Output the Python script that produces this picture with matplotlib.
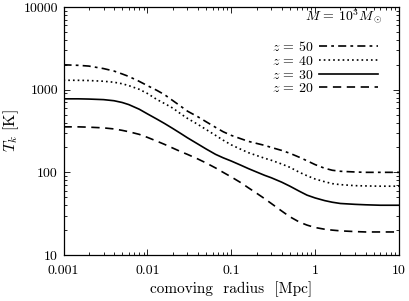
#!/usr/bin/env python3
"""Kinetic temperature profiles T_k(r) for a 10^3 Msun halo at several redshifts."""

import matplotlib
matplotlib.use("Agg")
import matplotlib.pyplot as plt
from matplotlib.ticker import FixedLocator, FixedFormatter, LogLocator, NullFormatter

plt.rcParams["font.family"] = "serif"
plt.rcParams["font.serif"] = ["cmr10", "DejaVu Serif"]
plt.rcParams["mathtext.fontset"] = "cm"
plt.rcParams["axes.formatter.use_mathtext"] = True
plt.rcParams["lines.scale_dashes"] = False

# ── data ──────────────────────────────────────────────────────────────────
radius = [0.001, 0.0015, 0.002, 0.003, 0.004, 0.005, 0.006, 0.008, 0.01,
          0.013, 0.016, 0.02, 0.025, 0.03, 0.04, 0.05, 0.065, 0.08, 0.1,
          0.13, 0.16, 0.2, 0.25, 0.3, 0.4, 0.5, 0.65, 0.8, 1.0,
          1.3, 1.6, 2.0, 3.0, 4.0, 6.0, 10.0]
tk_z50 = [2000, 1970, 1930, 1800, 1680, 1550, 1445, 1260, 1120,
          980, 870, 740, 630, 550, 470, 410, 350, 310, 280,
          255, 237, 224, 212, 200, 184, 170, 152, 138, 124,
          112, 106, 103, 101, 100, 100, 100]
tk_z40 = [1300, 1298, 1290, 1265, 1230, 1180, 1120, 1010, 900,
          760, 680, 600, 510, 450, 380, 330, 280, 245, 215,
          190, 173, 160, 148, 140, 126, 115, 100, 91, 83,
          77, 73, 71, 69, 68.5, 68, 68]
tk_z30 = [775, 775, 770, 758, 735, 700, 660, 580, 510,
          440, 390, 340, 295, 262, 220, 192, 165, 150, 137,
          122, 111, 101, 92, 86, 76, 68, 59, 53, 49,
          45.5, 43.5, 42, 41, 40.5, 40, 40]
tk_z20 = [355, 355, 352, 345, 335, 322, 310, 288, 265,
          238, 218, 197, 178, 165, 145, 130, 113, 100, 88,
          75, 65, 56, 48, 42, 34, 29, 25, 23, 21.5,
          20.5, 20, 19.6, 19.2, 19, 19, 19]

x_ticks = [0.001, 0.01, 0.1, 1, 10]
x_tick_labels = ["0.001", "0.01", "0.1", "1", "10"]
y_ticks = [10, 100, 1000, 10000]
y_tick_labels = ["10", "100", "1000", "10000"]

# ── plot ──────────────────────────────────────────────────────────────────
fig = plt.figure(figsize=(4.09, 3.01), dpi=100)
ax = fig.add_axes([0.1553, 0.1528, 0.8203, 0.8239])

lw = 1.2
ax.plot(radius, tk_z50, color="black", lw=lw, dashes=(5.8, 3.0, 2.0, 3.0),
        label=r"$z\,=\,50$")
ax.plot(radius, tk_z40, color="black", lw=lw, dashes=(1.2, 2.2),
        label=r"$z\,=\,40$")
ax.plot(radius, tk_z30, color="black", lw=lw, label=r"$z\,=\,30$")
ax.plot(radius, tk_z20, color="black", lw=lw, dashes=(6.0, 4.0),
        label=r"$z\,=\,20$")

ax.set_xscale("log")
ax.set_yscale("log")
ax.set_xlim(0.001, 10)
ax.set_ylim(10, 10000)

ax.xaxis.set_major_locator(FixedLocator(x_ticks))
ax.xaxis.set_major_formatter(FixedFormatter(x_tick_labels))
ax.yaxis.set_major_locator(FixedLocator(y_ticks))
ax.yaxis.set_major_formatter(FixedFormatter(y_tick_labels))
for axis in (ax.xaxis, ax.yaxis):
    axis.set_minor_locator(LogLocator(base=10, subs=range(2, 10), numticks=20))
    axis.set_minor_formatter(NullFormatter())

ax.tick_params(which="both", direction="in", top=True, right=True,
               labelsize=10, width=0.6)
ax.tick_params(axis="x", pad=7)
ax.tick_params(axis="y", pad=4)
ax.tick_params(which="major", length=4)
ax.tick_params(which="minor", length=2)
for sp in ax.spines.values():
    sp.set_linewidth(0.9)

ax.set_xlabel("comoving  radius  [Mpc]", fontsize=11, labelpad=3)
ax.set_ylabel(r"$T_k$ [K]", fontsize=11.5, labelpad=1.5)

ax.text(0.835, 0.96, r"$M\,=\,10^3 M_\odot$", transform=ax.transAxes,
        ha="center", va="center", fontsize=10)
ax.legend(loc="upper left", bbox_to_anchor=(0.62, 0.866), frameon=False,
          markerfirst=False, fontsize=10, handlelength=4.2,
          handletextpad=0.45, labelspacing=0.05, borderpad=0, borderaxespad=0)

fig.savefig("out.png", dpi=100)
